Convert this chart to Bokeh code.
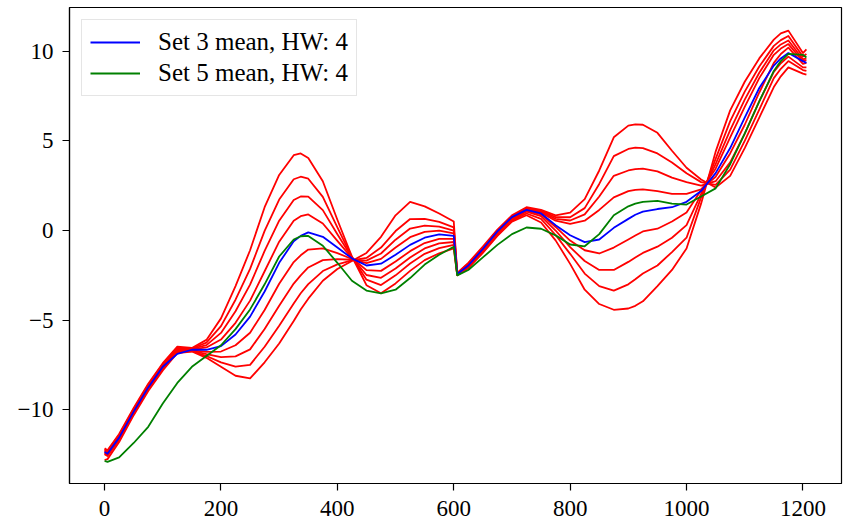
from bokeh.plotting import figure
from bokeh.models import Range1d, FixedTicker
from bokeh.embed import file_html
from bokeh.resources import INLINE

x = [0, 5, 25, 50, 75, 100, 125, 150, 175, 200, 225, 250, 275, 300, 325, 337, 350,
     375, 400, 425, 450, 475, 500, 525, 550, 575, 600, 606, 625, 650, 675, 700,
     725, 750, 775, 800, 825, 850, 875, 900, 912, 925, 950, 975, 1000, 1025, 1050,
     1075, 1100, 1125, 1150, 1162, 1175, 1200, 1206]

set3_mean = [-12.35, -12.45, -11.55, -10.1, -8.75, -7.6, -6.88, -6.65, -6.65, -6.45,
             -5.8, -4.8, -3.4, -1.8, -0.6, -0.3, -0.1, -0.35, -0.95, -1.55, -1.95, -1.85,
             -1.35, -0.8, -0.4, -0.22, -0.3, -2.42, -1.95, -1.03, -0.05, 0.75, 1.15,
             0.95, 0.3, -0.26, -0.65, -0.5, 0.15, 0.65, 0.88, 1.05, 1.2, 1.3, 1.6, 2.2,
             3.2, 4.6, 6.3, 7.95, 9.2, 9.6, 9.9, 9.45, 9.35]

set5_mean = [-12.85, -12.9, -12.65, -11.85, -10.95, -9.65, -8.5, -7.6, -7.0, -6.4,
             -5.5, -4.4, -3.0, -1.45, -0.5, -0.32, -0.3, -0.85, -1.8, -2.8, -3.35, -3.5,
             -3.3, -2.65, -1.9, -1.35, -0.9, -2.5, -2.2, -1.5, -0.8, -0.2, 0.17,
             0.1, -0.27, -0.78, -0.88, -0.2, 0.85, 1.35, 1.5, 1.6, 1.65, 1.5, 1.45, 1.9,
             2.35, 3.7, 5.4, 7.2, 8.9, 9.45, 9.85, 9.8, 9.65]

red_a = [-12.15, -12.25, -11.35, -9.9, -8.55, -7.4, -6.48, -6.55, -6.10, -4.90,
         -3.10, -1.10, 1.30, 3.10, 4.20, 4.30, 4.05, 2.75, 0.60, -1.45, -3.05, -3.50,
         -2.95, -2.25, -1.65, -1.27, -1.0, -2.5, -2.1, -1.25, -0.3, 0.5, 0.85,
         0.45, -0.55, -1.86, -3.3, -4.1, -4.42, -4.35, -4.2, -3.95, -3.1, -2.2, -1.0,
         1.5, 4.4, 6.7, 8.3, 9.6, 10.65, 11.0, 11.15, 9.9, 10.1]
red_b = [-12.2, -12.3, -11.4, -9.95, -8.6, -7.45, -6.53, -6.58, -6.25, -5.33,
         -3.86, -2.14, -0.02, 1.73, 2.86, 3.0, 2.89, 1.88, 0.17, -1.48, -2.74, -3.04,
         -2.50, -1.84, -1.30, -0.98, -0.80, -2.48, -2.05, -1.2, -0.25, 0.55, 0.95,
         0.65, -0.25, -1.3, -2.4, -3.1, -3.35, -3.0, -2.72, -2.4, -1.95, -1.2, -0.4,
         1.85, 4.0, 6.1, 7.75, 9.15, 10.3, 10.62, 10.85, 9.7, 9.85]
red_c = [-12.25, -12.35, -11.45, -10.0, -8.65, -7.5, -6.58, -6.60, -6.39, -5.71,
         -4.50, -3.02, -1.14, 0.55, 1.70, 1.9, 1.89, 1.14, -0.21, -1.50, -2.48, -2.64,
         -2.12, -1.50, -1.00, -0.72, -0.64, -2.46, -2.0, -1.15, -0.2, 0.6, 1.05,
         0.8, 0.0, -0.93, -1.7, -2.2, -2.2, -1.75, -1.5, -1.25, -0.9, -0.4, 0.3,
         2.05, 3.7, 5.6, 7.3, 8.8, 10.05, 10.38, 10.6, 9.55, 9.6]
red_d = [-12.3, -12.4, -11.5, -10.05, -8.7, -7.55, -6.63, -6.63, -6.52, -6.08,
         -5.15, -3.91, -2.27, -0.62, 0.55, 0.8, 0.90, 0.39, -0.58, -1.53, -2.21, -2.25,
         -1.73, -1.15, -0.70, -0.47, -0.47, -2.44, -1.95, -1.1, -0.15, 0.65, 1.1,
         0.9, 0.2, -0.56, -1.1, -1.28, -0.95, -0.5, -0.28, -0.05, 0.1, 0.5, 1.0,
         2.25, 3.45, 5.2, 6.9, 8.5, 9.8, 10.15, 10.4, 9.45, 9.5]
red_e = [-12.38, -12.48, -11.58, -10.13, -8.78, -7.63, -6.68, -6.68, -6.77, -6.75,
         -6.40, -5.70, -4.43, -2.97, -1.76, -1.38, -1.06, -0.99, -1.26, -1.59, -1.82, -1.58,
         -0.95, -0.37, -0.08, -0.01, -0.16, -2.42, -1.95, -1.05, -0.1, 0.7, 1.15,
         1.0, 0.55, 0.37, 0.55, 1.15, 1.85, 2.2, 2.27, 2.3, 2.2, 2.05, 2.05,
         2.3, 3.0, 4.3, 5.9, 7.7, 9.35, 9.85, 10.2, 9.3, 9.35]
red_f = [-12.43, -12.53, -11.63, -10.18, -8.83, -7.68, -6.73, -6.70, -6.89, -7.06,
         -7.02, -6.63, -5.49, -4.19, -2.96, -2.5, -2.06, -1.65, -1.59, -1.63, -1.68, -1.28,
         -0.51, 0.11, 0.27, 0.22, 0.0, -2.4, -1.9, -1.0, -0.05, 0.75, 1.2,
         1.05, 0.65, 0.56, 0.9, 1.9, 3.05, 3.35, 3.42, 3.45, 3.3, 2.95, 2.7,
         2.5, 2.75, 3.8, 5.4, 7.2, 8.85, 9.33, 9.7, 9.1, 9.1]
red_g = [-12.48, -12.58, -11.68, -10.23, -8.88, -7.73, -6.78, -6.73, -7.00, -7.35,
         -7.59, -7.49, -6.48, -5.31, -4.07, -3.5, -2.99, -2.26, -1.89, -1.67, -1.53, -0.95,
         -0.03, 0.64, 0.65, 0.48, 0.18, -2.38, -1.85, -0.95, 0.0, 0.8, 1.25,
         1.1, 0.75, 0.74, 1.25, 2.6, 4.15, 4.55, 4.62, 4.6, 4.3, 3.8, 3.2,
         2.7, 2.55, 3.4, 5.0, 6.75, 8.5, 9.02, 9.45, 8.95, 8.9]
red_h = [-12.8, -12.75, -11.8, -10.3, -8.95, -7.8, -6.83, -6.75, -7.10, -7.60,
         -8.10, -8.25, -7.35, -6.30, -5.05, -4.4, -3.80, -2.80, -2.15, -1.70, -1.25, -0.35,
         0.85, 1.6, 1.35, 0.95, 0.5, -2.36, -1.8, -0.9, 0.05, 0.85, 1.3,
         1.15, 0.85, 1.0, 1.75, 3.35, 5.2, 5.85, 5.92, 5.9, 5.45, 4.45, 3.5,
         2.85, 2.4, 3.05, 4.6, 6.3, 8.0, 8.6, 9.1, 8.75, 8.7]

red_series = [red_a, red_b, red_c, red_d, red_e, red_f, red_g, red_h]

x_ticks = [0, 200, 400, 600, 800, 1000, 1200]
y_ticks = [-10, -5, 0, 5, 10]
y_tick_labels = {-10: "\u221210", -5: "\u22125", 0: "0", 5: "5", 10: "10"}

FONT = "Liberation Serif"

p = figure(width=843, height=522, output_backend="svg", toolbar_location=None,
           x_range=Range1d(-60.3, 1266.3), y_range=Range1d(-14.11, 12.44),
           min_border_left=69, min_border_right=2, min_border_top=7,
           min_border_bottom=39)
p.grid.visible = False
p.outline_line_color = "black"
p.outline_line_width = 1.2
p.background_fill_color = "white"
p.border_fill_color = "white"

for ys in red_series:
    p.line(x, ys, line_color="#ff0000", line_width=1.8, line_join="round")

p.line(x, set3_mean, line_color="#0000ff", line_width=1.8, line_join="round",
       legend_label="Set 3 mean, HW: 4")
p.line(x, set5_mean, line_color="#008000", line_width=1.8, line_join="round",
       legend_label="Set 5 mean, HW: 4")

for ax in (p.xaxis[0], p.yaxis[0]):
    ax.axis_line_color = "black"
    ax.axis_line_width = 1.2
    ax.major_tick_line_color = "black"
    ax.major_tick_line_width = 1.2
    ax.major_tick_out = 7
    ax.major_tick_in = 0
    ax.minor_tick_line_color = None
    ax.major_label_text_font = FONT
    ax.major_label_text_font_size = "23px"
    ax.major_label_text_color = "black"

p.xaxis[0].ticker = FixedTicker(ticks=x_ticks)
p.xaxis[0].major_label_standoff = 10
p.yaxis[0].ticker = FixedTicker(ticks=y_ticks)
p.yaxis[0].major_label_overrides = y_tick_labels
p.yaxis[0].major_label_standoff = 9

lg = p.legend[0]
lg.location = "top_left"
lg.margin = 12
lg.padding = 8
lg.spacing = 3
lg.glyph_width = 50
lg.glyph_height = 22
lg.label_height = 22
lg.label_standoff = 18
lg.label_text_font = FONT
lg.label_text_font_size = "25px"
lg.label_text_color = "black"
lg.border_line_color = "#cccccc"
lg.border_line_width = 1.2
lg.background_fill_color = "white"
lg.background_fill_alpha = 0.8

open("out.html", "w").write(file_html(p, INLINE))
